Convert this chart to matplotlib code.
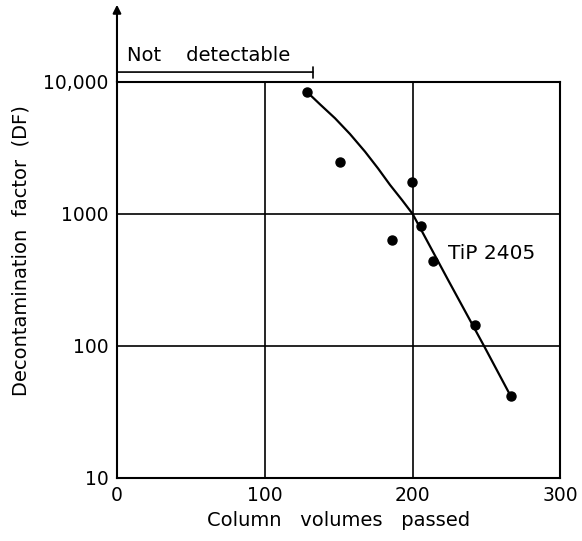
import matplotlib
matplotlib.use("Agg")
import matplotlib.pyplot as plt

# datos
volumenes = [128.8, 150.9, 186.3, 199.6, 205.5, 214.0, 242.2, 266.4]
df_medido = [8350, 2490, 636, 1757, 815, 440, 143, 42]

# curva ajustada (puntos leidos sobre la linea)
curva_x = [128.8, 137.4, 147.5, 157.6, 167.8, 176.6, 184.7, 192.8, 200.0,
           224.0, 248.5, 265.9]
curva_y = [8350, 6760, 5310, 4036, 2965, 2213, 1660, 1276, 1000,
           316, 99, 42.6]

x_ticks = [0, 100, 200, 300]
y_ticks = [10, 100, 1000, 10000]
y_labels = ['10', '100', '1000', '10,000']

plt.rcParams['font.family'] = ['DejaVu Sans']

fig = plt.figure(figsize=(5.82, 5.41), dpi=100)
ax = fig.add_axes([0.201, 0.1165, 0.762, 0.732])

ax.plot(curva_x, curva_y, color='black', linewidth=1.6)
ax.plot(volumenes, df_medido, 'o', color='black', markersize=6.5)

ax.set_yscale('log')
ax.set_xlim(0, 300)
ax.set_ylim(10, 10000)
ax.set_xticks(x_ticks)
ax.set_yticks(y_ticks)
ax.set_yticklabels(y_labels)
ax.minorticks_off()
ax.tick_params(length=0, labelsize=13.5, pad=6)
ax.grid(True, color='black', linewidth=1.2)
for s in ax.spines.values():
    s.set_linewidth(1.5)

ax.set_xlabel('Column   volumes   passed', fontsize=14, labelpad=4)
ax.set_ylabel('Decontamination  factor  (DF)', fontsize=14)
ax.yaxis.set_label_coords(-0.195, 0.575)

ax.text(224, 500, 'TiP 2405', fontsize=14.5, va='center', ha='left')

# flecha del eje y
ax.annotate('', xy=(0, 1.195), xytext=(0, 1.0), xycoords='axes fraction',
            textcoords='axes fraction',
            arrowprops=dict(arrowstyle='-|>', color='black', lw=1.5,
                            mutation_scale=12, shrinkA=0, shrinkB=0))

# "Not detectable"
trans = ax.get_xaxis_transform()
ax.annotate('', xy=(0, 1.025), xytext=(132.6, 1.025), xycoords=trans,
            textcoords=trans,
            arrowprops=dict(arrowstyle='|-|', color='black', lw=1.2,
                            mutation_scale=4, shrinkA=0, shrinkB=0))
ax.text(7, 1.042, 'Not    detectable', transform=trans, fontsize=14,
        ha='left', va='bottom')

fig.savefig('out.png', dpi=100)
plt.close(fig)
